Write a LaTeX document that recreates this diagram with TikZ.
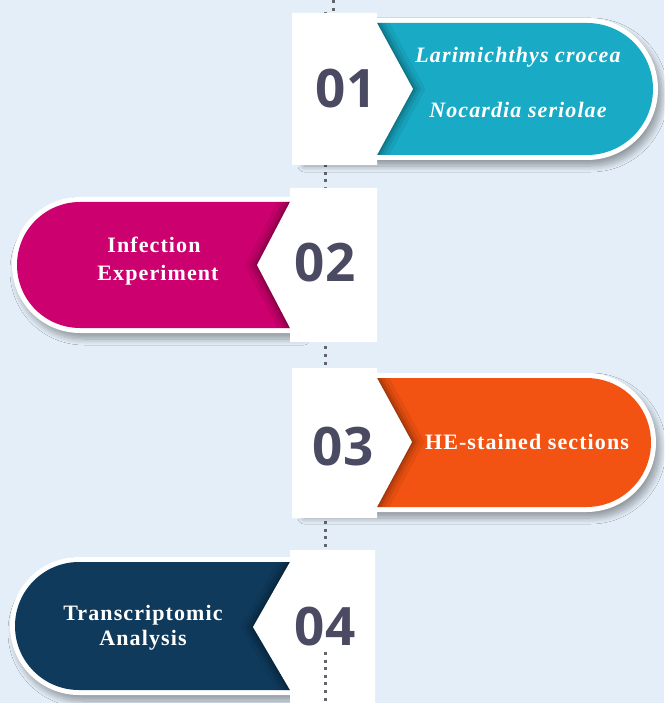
\documentclass[tikz,border=0pt]{standalone}
\usepackage{fontspec}
\setmainfont{Liberation Serif}
\newfontfamily\labelfont[LetterSpace=5]{Liberation Serif}
\newfontfamily\numfont{Open Sans}
\usetikzlibrary{shadows.blur}

\definecolor{pagebg}{RGB}{228,238,248}
\definecolor{stepteal}{RGB}{25,170,197}
\definecolor{steppink}{RGB}{204,0,110}
\definecolor{steporange}{RGB}{242,83,18}
\definecolor{stepnavy}{RGB}{15,58,92}
\definecolor{numgray}{RGB}{74,74,98}
\definecolor{dotgray}{RGB}{100,100,108}

\tikzset{
  pillrim/.style={fill=white, blur shadow={shadow xshift=4pt, shadow yshift=-6pt,
      shadow blur steps=10, shadow blur radius=6pt, shadow opacity=35}},
  numbox/.style={fill=white},
  numlabel/.style={font=\numfont\bfseries\fontsize{53}{53}\selectfont,
      text=numgray, inner sep=0pt},
  steplabel/.style={font=\labelfont\bfseries\fontsize{22}{22}\selectfont,
      text=white, inner sep=0pt, anchor=base},
  italiclabel/.style={steplabel, font=\labelfont\bfseries\itshape\fontsize{22}{22}\selectfont},
  dots/.style={draw=dotgray, line width=3pt, dash pattern=on 3pt off 4.6pt},
  edgeshade/.style={line join=miter}
}

\begin{document}
\begin{tikzpicture}[x=1pt,y=-1pt]
  % page
  \fill[pagebg] (0,0) rectangle (664,703);
  \useasboundingbox (0,0) rectangle (664,703);

  % dotted spine running behind the steps
  \coordinate (spinetopA) at (333,0);
  \coordinate (spinetopB) at (333,12);
  \coordinate (spinetop) at (325,12);
  \coordinate (spinebot) at (325,703);
  \draw[dots] (spinetopA) -- (spinetopB);
  \draw[dots] (spinetop) -- (spinebot);

  % ---------- step 01 (teal, points right) ----------
  \path[pillrim] (300,18) -- (587,18) arc[start angle=90,end angle=-90,radius=71pt] -- (300,160) -- cycle;
  \fill[stepteal] (300,23) -- (587,23) arc[start angle=90,end angle=-90,radius=66pt] -- (300,155) -- cycle;
  \begin{scope}
    \clip (300,23) -- (587,23) arc[start angle=90,end angle=-90,radius=66pt] -- (300,155) -- cycle;
    \foreach \w/\o in {22/0.06,14/0.08,8/0.1,3/0.13}
      \draw[edgeshade, line width=\w pt, black, opacity=\o] (377,23) -- (413,89) -- (377,155);
  \end{scope}
  \fill[numbox] (292,13) -- (377,13) -- (377,23) -- (413,89) -- (377,155) -- (377,165) -- (292,165) -- cycle;
  \node[numlabel] (n1) at (346,89) {01};
  \node[italiclabel] (t1a) at (518,63) {Larimichthys crocea};
  \node[italiclabel] (t1b) at (518,118) {Nocardia seriolae};

  % ---------- step 02 (magenta, points left) ----------
  \path[pillrim] (300,197) -- (80,197) arc[start angle=90,end angle=270,radius=68pt] -- (300,333) -- cycle;
  \fill[steppink] (300,202) -- (80,202) arc[start angle=90,end angle=270,radius=63pt] -- (300,328) -- cycle;
  \begin{scope}
    \clip (300,202) -- (80,202) arc[start angle=90,end angle=270,radius=63pt] -- (300,328) -- cycle;
    \foreach \w/\o in {22/0.06,14/0.08,8/0.1,3/0.13}
      \draw[edgeshade, line width=\w pt, black, opacity=\o] (290,202) -- (257,265) -- (290,328);
  \end{scope}
  \fill[numbox] (377,188) -- (290,188) -- (290,202) -- (257,265) -- (290,328) -- (290,342) -- (377,342) -- cycle;
  \node[numlabel] (n2) at (325,263) {02};
  \node[steplabel] (t2a) at (154,252) {Infection};
  \node[steplabel] (t2b) at (158,280) {Experiment};

  % ---------- step 03 (orange, points right) ----------
  \path[pillrim] (300,373) -- (586.5,373) arc[start angle=90,end angle=-90,radius=69.5pt] -- (300,512) -- cycle;
  \fill[steporange] (300,378) -- (586.5,378) arc[start angle=90,end angle=-90,radius=64.5pt] -- (300,507) -- cycle;
  \begin{scope}
    \clip (300,378) -- (586.5,378) arc[start angle=90,end angle=-90,radius=64.5pt] -- (300,507) -- cycle;
    \foreach \w/\o in {22/0.06,14/0.08,8/0.1,3/0.13}
      \draw[edgeshade, line width=\w pt, black, opacity=\o] (377,378) -- (412,442) -- (377,507);
  \end{scope}
  \fill[numbox] (292,368) -- (377,368) -- (377,378) -- (412,442) -- (377,507) -- (377,518) -- (292,518) -- cycle;
  \node[numlabel] (n3) at (343,447) {03};
  \node[steplabel] (t3) at (527,449) {HE-stained sections};

  % ---------- step 04 (navy, points left) ----------
  \path[pillrim] (300,557) -- (79,557) arc[start angle=90,end angle=270,radius=69pt] -- (300,695) -- cycle;
  \fill[stepnavy] (300,562) -- (79,562) arc[start angle=90,end angle=270,radius=64pt] -- (300,690) -- cycle;
  \begin{scope}
    \clip (300,562) -- (79,562) arc[start angle=90,end angle=270,radius=64pt] -- (300,690) -- cycle;
    \foreach \w/\o in {22/0.06,14/0.08,8/0.1,3/0.13}
      \draw[edgeshade, line width=\w pt, black, opacity=\o] (290,562) -- (253,627) -- (290,690);
  \end{scope}
  \fill[numbox] (375,550) -- (290,550) -- (290,562) -- (253,627) -- (290,690) -- (290,703) -- (375,703) -- cycle;
  \node[numlabel] (n4) at (325,627) {04};
  \node[steplabel] (t4a) at (143,620) {Transcriptomic};
  \node[steplabel] (t4b) at (143,645) {Analysis};

  % spine continues over the last box
  \coordinate (tailtop) at (325,652);
  \draw[dots] (tailtop) -- (spinebot);
\end{tikzpicture}
\end{document}
